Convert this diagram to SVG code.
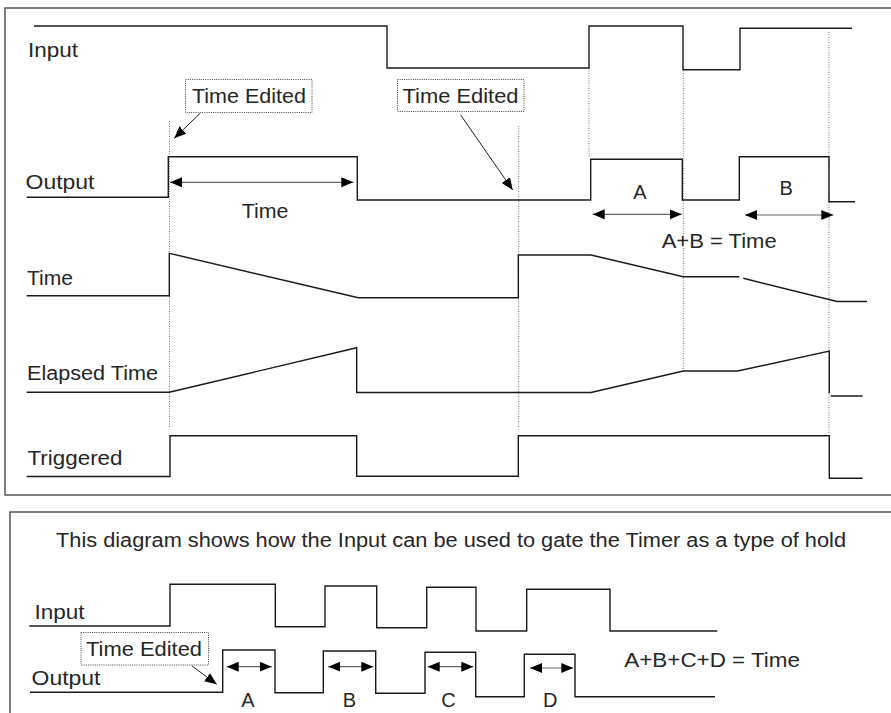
<svg xmlns="http://www.w3.org/2000/svg" width="891" height="713" viewBox="0 0 891 713">
<defs>
<marker id="ah" markerUnits="userSpaceOnUse" markerWidth="13" markerHeight="11" refX="12" refY="5" orient="auto-start-reverse" viewBox="0 0 13 11">
<path d="M0,0 L12,5 L0,10 z" fill="#000"/>
</marker>
</defs>
<style>
.t{font-family:"Liberation Sans",Arial,sans-serif;font-size:20px;fill:#262626}
.c{text-anchor:middle}
.sig{fill:none;stroke:#1a1a1a;stroke-width:1.4;stroke-linejoin:miter}
.dot{fill:none;stroke:#777;stroke-width:1;stroke-dasharray:1,1.5}
.box{fill:none;stroke:#444;stroke-width:1;stroke-dasharray:1,1.2}
.frame{fill:none;stroke:#555;stroke-width:1.5}
.dim{stroke:#666;stroke-width:1.2;marker-start:url(#ah);marker-end:url(#ah)}
.ptr{stroke:#222;stroke-width:1;marker-end:url(#ah)}
</style>
<rect width="891" height="713" fill="#fff"/>
<g id="frames">
<rect class="frame" x="5" y="8" width="900" height="487"/>
<rect class="frame" x="10" y="512" width="900" height="220"/>
</g>
<g id="labels">
<text class="t" x="28" y="57" textLength="50" lengthAdjust="spacingAndGlyphs">Input</text>
<text class="t" x="25.5" y="188.5" textLength="69" lengthAdjust="spacingAndGlyphs">Output</text>
<text class="t" x="27" y="285" textLength="46" lengthAdjust="spacingAndGlyphs">Time</text>
<text class="t" x="27" y="380" textLength="131" lengthAdjust="spacingAndGlyphs">Elapsed Time</text>
<text class="t" x="27.5" y="465" textLength="95" lengthAdjust="spacingAndGlyphs">Triggered</text>
<text class="t" x="56" y="546.5" textLength="790" lengthAdjust="spacingAndGlyphs">This diagram shows how the Input can be used to gate the Timer as a type of hold</text>
<text class="t" x="34.5" y="618.5" textLength="50" lengthAdjust="spacingAndGlyphs">Input</text>
<text class="t" x="31.5" y="684.5" textLength="69" lengthAdjust="spacingAndGlyphs">Output</text>
</g>
<g id="edited-1">
<rect class="box" x="185.5" y="79.5" width="126.5" height="33"/>
<text class="t" x="192" y="102.7" textLength="114" lengthAdjust="spacingAndGlyphs">Time Edited</text>
</g>
<g id="edited-2">
<rect class="box" x="397.5" y="79.5" width="126.5" height="32"/>
<text class="t" x="402.5" y="102.7" textLength="116" lengthAdjust="spacingAndGlyphs">Time Edited</text>
</g>
<g id="edited-3">
<rect class="box" x="81" y="632.5" width="127.5" height="32.5"/>
<text class="t" x="86" y="655.7" textLength="116" lengthAdjust="spacingAndGlyphs">Time Edited</text>
</g>
<g id="dotted-guides">
<line class="dot" x1="169.5" y1="121" x2="169.5" y2="427"/>
<line class="dot" x1="518.7" y1="126" x2="518.7" y2="427"/>
<line class="dot" x1="589" y1="68" x2="589" y2="157"/>
<line class="dot" x1="683.3" y1="68" x2="683.3" y2="370"/>
<line class="dot" x1="829" y1="32" x2="829" y2="433"/>
</g>
<g id="sig-input">
<polyline class="sig" points="34,26 387,26 387,68 589,68 589,26 683,26 683,69.7 740,69.7 740,28.3 852,28.3"/>
</g>
<g id="sig-output">
<polyline class="sig" points="26.7,197.3 168.3,197.3 168.3,156.7 357.3,156.7 357.3,200 590.7,200 590.7,159.3 682.3,159.3 682.3,200 739.3,200 739.3,156.7 829,156.7 829,201.7 855,201.7"/>
</g>
<g id="sig-time">
<polyline class="sig" points="26.7,295.7 169.3,295.7 169.3,253.3 358.3,297.7 518.3,297.7 518.3,255 591,255 683.3,276.7 739.3,276.7"/>
<polyline class="sig" points="743.3,278.3 837,301.5 867,301.5"/>
</g>
<g id="sig-elapsed">
<polyline class="sig" points="26.7,392.3 169.3,392.3 356.7,347.7 356.7,392.5 591,392.5 683.3,371 737.7,371 829.3,351 829.3,393.3"/>
<polyline class="sig" points="830.7,396 862.7,396"/>
</g>
<g id="sig-triggered">
<polyline class="sig" points="26.7,476.5 170,476.5 170,435.7 356.7,435.7 356.7,476.2 518.3,476.2 518.3,435.7 829.3,435.7 829.3,478.3 862.7,478.3"/>
</g>
<g id="sig-input-2">
<polyline class="sig" points="29.3,626 170,626 170,584.3 275.3,584.3 275.3,626.7 325,626.7 325,586 376.7,586 376.7,627.7 426.7,627.7 426.7,587.3 476,587.3 476,631 526.7,631 526.7,589.3 610,589.3 610,631 717.3,631"/>
</g>
<g id="sig-output-2">
<polyline class="sig" points="30,692.3 222.7,692.3 222.7,650 275,650 275,692.8 323.3,692.8 323.3,651 375.7,651 375.7,693.3 425,693.3 425,652.3 475.7,652.3 475.7,696.7 524.3,696.7 524.3,654.3 575,654.3 575,696.7 715,696.7"/>
</g>
<g id="connectors">
<line class="ptr" x1="200" y1="113.3" x2="174.3" y2="138.3"/>
<line class="ptr" x1="460.7" y1="115" x2="512.7" y2="190"/>
<line class="ptr" x1="191.7" y1="665.7" x2="216.7" y2="684.3"/>
<line class="dim" x1="170" y1="182.3" x2="353.3" y2="182.3"/>
<line class="dim" x1="592.7" y1="214.3" x2="681.7" y2="214.3"/>
<line class="dim" x1="745" y1="215" x2="833.3" y2="215"/>
<line class="dim" x1="226.7" y1="666.7" x2="271.7" y2="666.7"/>
<line class="dim" x1="328.3" y1="666.7" x2="373.3" y2="666.7"/>
<line class="dim" x1="427.7" y1="666.7" x2="473.3" y2="666.7"/>
<line class="dim" x1="530" y1="668" x2="573.3" y2="668"/>
</g>
<g id="dim-labels">
<text class="t" x="241.7" y="218.3" textLength="46.7" lengthAdjust="spacingAndGlyphs">Time</text>
<text class="t c" x="640" y="198.5">A</text>
<text class="t c" x="786.2" y="195">B</text>
<text class="t" x="661.7" y="247.5" textLength="115" lengthAdjust="spacingAndGlyphs">A+B = Time</text>
<text class="t c" x="247.8" y="706.7">A</text>
<text class="t c" x="349.5" y="706.7">B</text>
<text class="t c" x="448.5" y="706.7">C</text>
<text class="t c" x="550.3" y="706.7">D</text>
<text class="t" x="624.3" y="666.7" textLength="175.7" lengthAdjust="spacingAndGlyphs">A+B+C+D = Time</text>
</g>
</svg>
